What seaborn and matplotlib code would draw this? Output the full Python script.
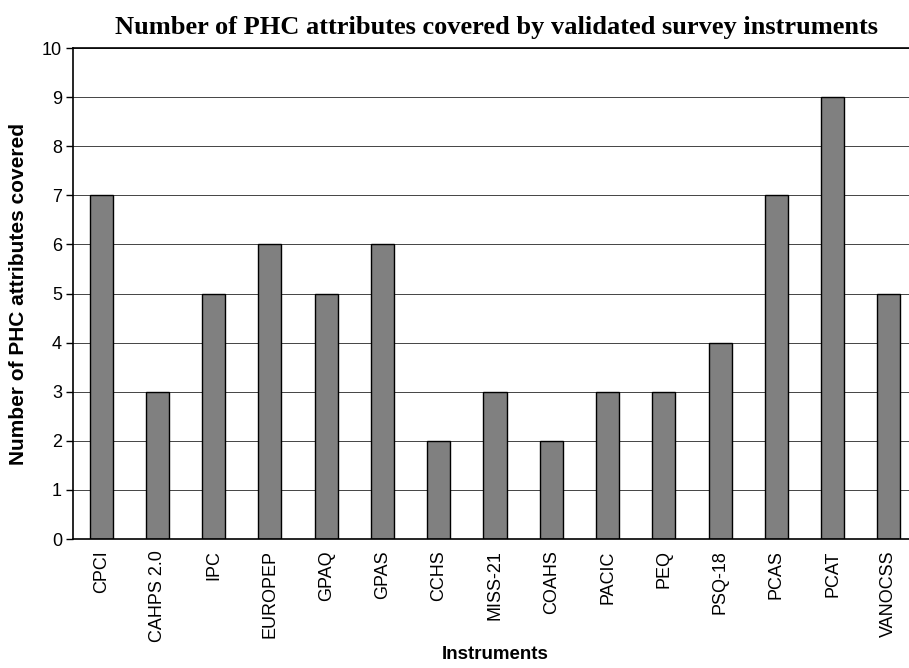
import numpy as np
import pandas as pd
import matplotlib
matplotlib.use("Agg")
import matplotlib.pyplot as plt
import seaborn as sns

# Data
instruments = ['CPCI', 'CAHPS 2.0', 'IPC', 'EUROPEP', 'GPAQ', 'GPAS', 'CCHS', 'MISS-21',
               'COAHS', 'PACIC', 'PEQ', 'PSQ-18', 'PCAS', 'PCAT', 'VANOCSS']
attributes = [7, 3, 5, 6, 5, 6, 2, 3, 2, 3, 3, 4, 7, 9, 5]

df = pd.DataFrame({'Instruments': instruments, 'Attributes': attributes})

sns.set_style('white')
plt.rcParams['font.family'] = ['Liberation Sans', 'DejaVu Sans']
plt.rcParams['text.color'] = 'black'
plt.rcParams['axes.labelcolor'] = 'black'
plt.rcParams['xtick.color'] = 'black'
plt.rcParams['ytick.color'] = 'black'

fig = plt.figure(figsize=(9.09, 6.68), dpi=100)
ax = fig.add_axes([0.0803, 0.193, 0.9285, 0.735])

sns.barplot(data=df, x='Instruments', y='Attributes', color='#808080',
            edgecolor='black', linewidth=1, width=0.41, saturation=1, ax=ax)

ax.set_ylim(0, 10)
ax.set_xlim(-0.5, 14.5)
ax.set_yticks(range(0, 11))
ax.yaxis.grid(True, color='#444444', linewidth=0.7)
ax.set_axisbelow(True)

ax.set_xticks(np.arange(-0.5, 15, 1), minor=True)
ax.tick_params(axis='x', which='major', length=0, labelsize=13, labelrotation=90, pad=8)
ax.tick_params(axis='x', which='minor', length=5, width=1, color='black', direction='out')
ax.tick_params(axis='y', which='major', length=5, width=1, color='black', direction='out',
               labelsize=13, pad=3)
ax.tick_params(bottom=True, left=True)

for side in ['left', 'bottom', 'top']:
    ax.spines[side].set_color('black')
    ax.spines[side].set_linewidth(1.2)
ax.spines['right'].set_visible(False)

ax.set_xlabel('Instruments', fontsize=13.5, fontweight='bold', labelpad=3)
ax.set_ylabel('Number of PHC attributes covered', fontsize=15, fontweight='bold', labelpad=10)
fig.suptitle('Number of PHC attributes covered by validated survey instruments',
             x=0.546, y=0.976, fontsize=19, fontweight='bold', family='Liberation Serif')

fig.savefig('out.png', dpi=100)
